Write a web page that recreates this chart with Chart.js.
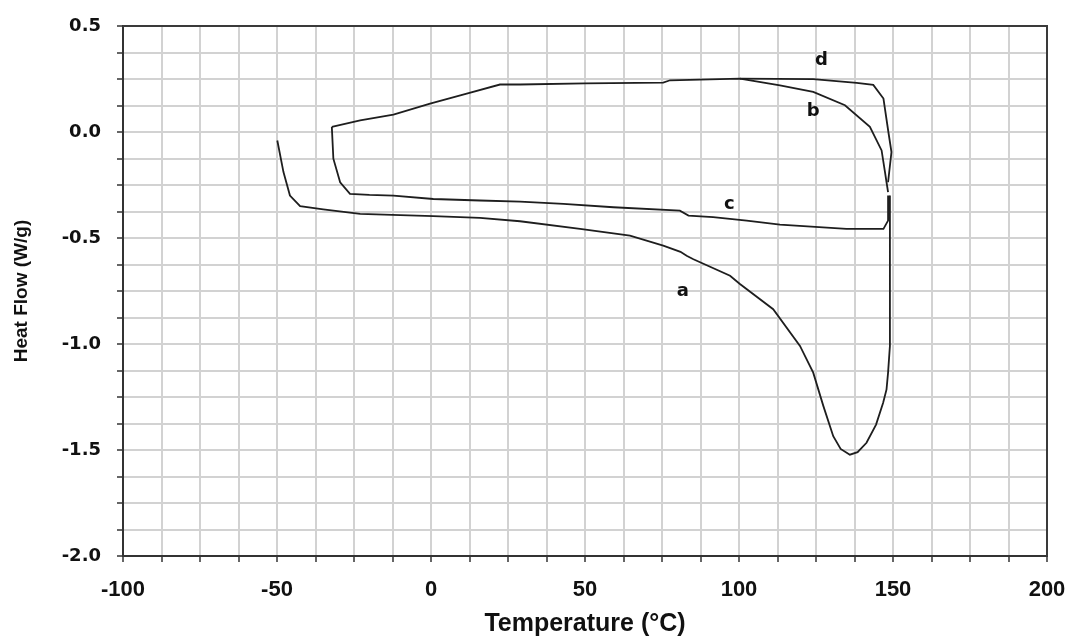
<!DOCTYPE html>
<html>
<head>
<meta charset="utf-8">
<script src="https://cdn.jsdelivr.net/npm/chart.js@4.4.0/dist/chart.umd.min.js"></script>
<style>
  html, body { margin: 0; padding: 0; background: #fff; }
</style>
</head>
<body>
<canvas id="chart" width="1074" height="637"></canvas>
<script>
// DSC traces, temperature in °C and heat flow in W/g
const aTemp = [-49.9, -47.9, -45.8, -42.5, -35, -23, -10, 0.75, 15.9, 28.9, 48.4, 64.6, 75.4, 81, 83, 85.2, 97.1, 100.3, 111.1, 119.8, 124.1, 127.4, 130.6, 133, 136, 138.5, 141.4, 144.5, 146.8, 147.9, 148.4, 149, 149, 149];
const aHeat = [-0.04, -0.189, -0.30, -0.35, -0.365, -0.386, -0.392, -0.397, -0.405, -0.421, -0.457, -0.489, -0.536, -0.565, -0.584, -0.60, -0.678, -0.717, -0.836, -1.009, -1.135, -1.293, -1.435, -1.495, -1.522, -1.51, -1.466, -1.38, -1.277, -1.214, -1.135, -1.009, -0.694, -0.30];

const cTemp = [148.7, 148.4, 146.9, 134.9, 113.3, 102.5, 91.6, 83.6, 80.8, 59.2, 43, 28.9, 15.9, 0.75, -12.2, -20, -26.3, -29.5, -31.7, -32.2];
const cHeat = [-0.30, -0.418, -0.457, -0.457, -0.437, -0.418, -0.402, -0.394, -0.371, -0.355, -0.339, -0.328, -0.323, -0.316, -0.30, -0.297, -0.292, -0.237, -0.126, 0.024];

const bTemp = [-32.2, -23, -12.2, -0.3, 11.6, 22.4, 28.9, 50, 75.4, 77.6, 100.3, 113.3, 124.1, 134.4, 142.5, 146.3, 147.4, 147.9, 148.4];
const bHeat = [0.024, 0.055, 0.082, 0.134, 0.181, 0.224, 0.224, 0.229, 0.233, 0.244, 0.252, 0.22, 0.189, 0.126, 0.024, -0.087, -0.189, -0.237, -0.284];

const dTemp = [100.3, 124.1, 138.2, 143.6, 146.9, 148.5, 149.5, 148.4];
const dHeat = [0.252, 0.249, 0.232, 0.222, 0.158, 0.0, -0.095, -0.237];

const curveNames = ['a', 'b', 'c', 'd'];
const nameTemp = [81.8, 124.1, 96.9, 126.8];
const nameHeat = [-0.75, 0.098, -0.339, 0.339];

const FONT = "'Liberation Sans', Arial, sans-serif";
const WIDE = "'DejaVu Sans', Verdana, sans-serif";
const INK = '#1e1e1e';

const toPoints = (xs, ys) => xs.map((x, i) => ({ x: x, y: ys[i] }));

// box around the plot area (top and right sides)
const frame = {
  id: 'frame',
  afterDraw(chart) {
    const { ctx, chartArea } = chart;
    ctx.save();
    ctx.strokeStyle = '#3a3a3a';
    ctx.lineWidth = 2;
    ctx.beginPath();
    ctx.moveTo(chartArea.left, chartArea.top);
    ctx.lineTo(chartArea.right, chartArea.top);
    ctx.lineTo(chartArea.right, chartArea.bottom);
    ctx.stroke();
    ctx.restore();
  }
};

// letters naming each curve
const curveText = {
  id: 'curveText',
  afterDatasetsDraw(chart) {
    const { ctx, scales } = chart;
    ctx.save();
    ctx.font = 'bold 18px ' + WIDE;
    ctx.fillStyle = '#111';
    ctx.textAlign = 'center';
    ctx.textBaseline = 'middle';
    curveNames.forEach((n, i) => {
      ctx.fillText(n, scales.x.getPixelForValue(nameTemp[i]), scales.y.getPixelForValue(nameHeat[i]));
    });
    ctx.restore();
  }
};

const line = (label, xs, ys) => ({
  label: label,
  data: toPoints(xs, ys),
  showLine: true,
  borderColor: INK,
  borderWidth: 1.8,
  pointRadius: 0,
  tension: 0,
  fill: false
});

new Chart(document.getElementById('chart'), {
  type: 'scatter',
  data: {
    datasets: [
      line('a', aTemp, aHeat),
      line('c', cTemp, cHeat),
      line('b', bTemp, bHeat),
      line('d', dTemp, dHeat)
    ]
  },
  options: {
    responsive: false,
    animation: false,
    devicePixelRatio: 1,
    layout: { padding: { top: 26, right: 27, left: 0, bottom: 0 } },
    plugins: {
      legend: { display: false },
      tooltip: { enabled: false }
    },
    scales: {
      x: {
        type: 'linear',
        min: -100,
        max: 200,
        afterFit: (s) => { s.height = 81; s.paddingLeft = 0; s.paddingRight = 0; },
        ticks: {
          stepSize: 12.5,
          autoSkip: false,
          maxRotation: 0,
          padding: 15,
          color: '#111',
          font: { family: FONT, size: 22, weight: 'bold' },
          callback: (v) => (v % 50 === 0 ? String(v) : '')
        },
        grid: { color: '#d2d2d2', lineWidth: 2, tickColor: '#333', tickLength: 6, tickWidth: 1.5 },
        border: { color: '#333', width: 2 },
        title: {
          display: true,
          text: 'Temperature (°C)',
          color: '#111',
          font: { family: FONT, size: 25, weight: 'bold', lineHeight: 1 },
          padding: { top: 0, bottom: 0 }
        }
      },
      y: {
        type: 'linear',
        min: -2,
        max: 0.5,
        afterFit: (s) => { s.width = 123; s.paddingTop = 0; s.paddingBottom = 0; },
        ticks: {
          stepSize: 0.125,
          autoSkip: false,
          padding: 16,
          color: '#111',
          font: { family: WIDE, size: 18, weight: 'bold' },
          callback: (v) => (Math.abs(v * 2 - Math.round(v * 2)) < 1e-9 ? v.toFixed(1) : '')
        },
        grid: { color: '#d2d2d2', lineWidth: 2, tickColor: '#333', tickLength: 6, tickWidth: 1.5 },
        border: { color: '#333', width: 2 },
        title: {
          display: true,
          text: 'Heat Flow (W/g)',
          color: '#111',
          font: { family: FONT, size: 19, weight: 'bold' },
          padding: { top: 10, bottom: 0 }
        }
      }
    }
  },
  plugins: [frame, curveText]
});
</script>
</body>
</html>
